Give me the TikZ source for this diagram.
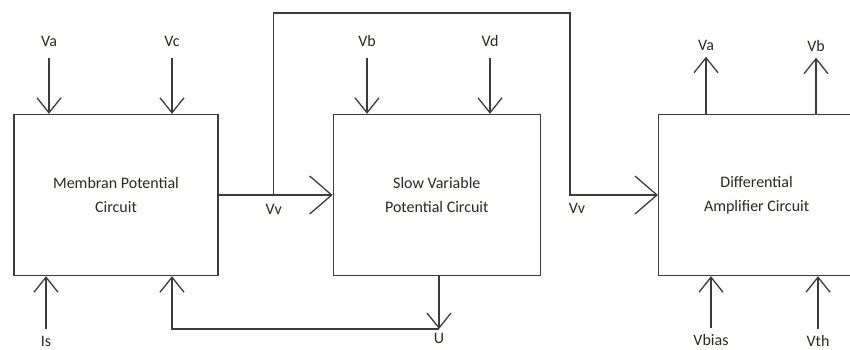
\documentclass[tikz,border=0pt]{standalone}
\usepackage{fontspec}
\setmainfont{Carlito}
\usetikzlibrary{
arrows.meta,
positioning
}
\definecolor{wire}{HTML}{3C3C3C}
\definecolor{ink}{HTML}{2B2722}

\begin{document}
\begin{tikzpicture}[
x=1pt, y=-1pt,
font=\fontsize{16}{24}\selectfont,
block/.style={
rectangle,
draw=wire,
line width=1.3pt,
minimum width=204pt,
minimum height=161pt,
align=center,
text=ink
},
lbl/.style={inner sep=1pt, text=ink, text height=11pt, text depth=0pt},
arrow/.style={draw=wire, line width=1.3pt, -{Straight Barb[length=15pt,width=24pt]}},
bigarrow/.style={draw=wire, line width=1.3pt, -{Straight Barb[length=22pt,width=38pt]}}
]

\clip (0,0) rectangle (850,349);

\node[block] (membran) at (116,195) {Membran Potential\\Circuit};

\node[block, minimum width=207pt, right=114pt of membran] (slowvar)
{Slow Variable\\Potential Circuit};

\node[block, minimum width=196pt, right=117pt of slowvar] (diffamp)
{Differential\\Amplifier Circuit};

% inputs from above
\node[lbl] (va1) at (49,41) {Va};
\node[lbl] (vc1) at (172,41) {Vc};
\node[lbl] (vb1) at (367,41) {Vb};
\node[lbl] (vd) at (490,41) {Vd};

\draw[arrow, shorten <=10pt] (va1) -- (va1 |- membran.north);
\draw[arrow, shorten <=10pt] (vc1) -- (vc1 |- membran.north);
\draw[arrow, shorten <=10pt] (vb1) -- (vb1 |- slowvar.north);
\draw[arrow, shorten <=10pt] (vd) -- (vd |- slowvar.north);

% outputs of the amplifier
\node[lbl] (va2) at (706,45) {Va};
\node[lbl] (vb2) at (816,46) {Vb};

\draw[arrow, shorten >=5pt] (va2 |- diffamp.north) -- (va2);
\draw[arrow, shorten >=5pt] (vb2 |- diffamp.north) -- (vb2);

% inputs from below
\node[lbl] (is) at (46,341) {Is};
\node[lbl] (vbias) at (711,340) {Vbias};
\node[lbl] (vth) at (818,341) {Vth};

\draw[arrow, shorten <=5pt] (is) -- (is |- membran.south);
\draw[arrow, shorten <=5pt] (vbias) -- (vbias |- diffamp.south);
\draw[arrow, shorten <=5pt] (vth) -- (vth |- diffamp.south);

% feedback U
\coordinate (fb) at (439,329);
\node[lbl, below=2pt of fb] (u) {U};
\draw[arrow] (fb |- slowvar.south) -- (fb);
\draw[arrow] (fb) -| (vc1 |- membran.south);

% Vv
\coordinate[right=55pt of membran.east] (vvsplit);
\coordinate (topturn) at (570,13);
\node[lbl, below=7pt of vvsplit] (vv1) {Vv};
\node[lbl] (vv2) at (577,208) {Vv};

\draw[bigarrow] (membran.east) -- (slowvar.west);
\draw[bigarrow] (vvsplit) |- (topturn) |- (diffamp.west);

\end{tikzpicture}
\end{document}
